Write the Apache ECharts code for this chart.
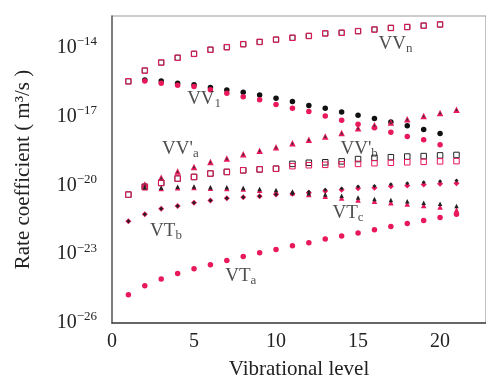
<!DOCTYPE html>
<html>
<head>
<meta charset="utf-8">
<script src="https://cdn.jsdelivr.net/npm/echarts@6/dist/echarts.min.js"></script>
<style>
  html, body { margin: 0; padding: 0; background: #fff; }
  #chart { width: 486px; height: 385px; }
</style>
</head>
<body>
<div id="chart"></div>
<script>
// log10 of the rate coefficient (m^3/s)
// VV_n, levels 1-20 (black and pink nearly identical)
var vvN = [-15.46, -14.99, -14.64, -14.43, -14.26, -14.08, -13.97, -13.84, -13.74, -13.64,
           -13.56, -13.48, -13.37, -13.34, -13.27, -13.20, -13.13, -13.09, -13.03, -12.98];
// VV_1, levels 2-20
var vv1Black = [-15.40, -15.44, -15.54, -15.61, -15.73, -15.84, -15.94, -16.06, -16.20, -16.34,
                -16.51, -16.63, -16.80, -16.94, -17.08, -17.23, -17.40, -17.56, -17.73];
var vv1Pink = [-15.44, -15.54, -15.63, -15.68, -15.83, -15.98, -16.13, -16.26, -16.47, -16.63,
               -16.77, -16.97, -17.16, -17.33, -17.48, -17.68, -17.87, -18.01, -18.23];
// VV'_a, levels 2-21
var vvA = [-19.96, -19.66, -19.39, -19.20, -18.98, -18.83, -18.64, -18.49, -18.34, -18.16,
           -18.01, -17.87, -17.71, -17.51, -17.38, -17.26, -17.11, -16.97, -16.84, -16.70];
// VV'_b, levels 1-21
var vvBBlack = [-20.40, -20.06, -19.89, -19.70, -19.63, -19.48, -19.41, -19.34, -19.30, -19.27,
                -19.06, -19.01, -18.99, -18.95, -18.85, -18.80, -18.77, -18.74, -18.72, -18.69, -18.67];
var vvBPink = [-20.40, -20.06, -19.89, -19.70, -19.63, -19.48, -19.41, -19.34, -19.30, -19.27,
               -19.16, -19.12, -19.10, -19.08, -19.06, -19.03, -19.01, -18.99, -18.97, -18.95, -18.94];
// VT_a, levels 1-21
var vtA = [-24.77, -24.37, -24.08, -23.84, -23.63, -23.46, -23.27, -23.10, -22.94, -22.79, -22.63,
           -22.50, -22.34, -22.20, -22.07, -21.93, -21.79, -21.66, -21.53, -21.40, -21.26];
// VT_b, levels 1-21
var vtBBlack = [-21.56, -21.26, -21.02, -20.90, -20.76, -20.66, -20.56, -20.51, -20.47, -20.40, -20.36,
                -20.28, -20.19, -20.13, -20.05, -20.02, -19.95, -19.90, -19.86, -19.82, -19.78];
var vtBPink = [-21.56, -21.26, -21.02, -20.90, -20.76, -20.66, -20.56, -20.51, -20.47, -20.40, -20.36,
               -20.32, -20.24, -20.19, -20.12, -20.10, -20.04, -20.00, -19.96, -19.93, -19.90];
// VT_c, levels 2-21
var vtCBlack = [-20.08, -20.10, -20.06, -20.05, -20.08, -20.08, -20.11, -20.16, -20.20, -20.26,
                -20.34, -20.40, -20.45, -20.53, -20.59, -20.63, -20.69, -20.76, -20.80, -20.90];
var vtCPink = [-20.10, -20.13, -20.10, -20.09, -20.12, -20.13, -20.16, -20.21, -20.26, -20.32,
               -20.40, -20.47, -20.55, -20.64, -20.69, -20.75, -20.81, -20.88, -20.94, -21.07];

// curve labels: level, log10 value, text, subscript
var annX = [16.25, 4.58, 3.05, 13.93, 6.90, 2.32, 13.44];
var annY = [-13.83, -16.25, -18.43, -18.43, -23.94, -21.99, -21.22];
var annMain = ['VV', 'VV', "VV'", "VV'", 'VT', 'VT', 'VT'];
var annSub = ['n', '1', 'a', 'b', 'a', 'b', 'c'];

// decades shown on the y axis (10^e)
var yTicks = [-26, -23, -20, -17, -14];

var PINK = '#e8185a';
var FONT = '"Liberation Serif", "DejaVu Serif", serif';

function pts(arr, start) {
  return arr.map(function (e, i) {
    return [start + i, e];
  });
}

function dots(data, symbol, size, fill, stroke, z) {
  return {
    type: 'scatter',
    data: data,
    symbol: symbol,
    symbolSize: size,
    z: z,
    silent: true,
    itemStyle: {
      color: fill,
      borderColor: stroke || fill,
      borderWidth: stroke ? 1 : 0,
      opacity: 1,
    },
  };
}

var chart = echarts.init(document.getElementById('chart'));

var option = {
  backgroundColor: '#fff',
  animation: false,
  grid: {
    left: 112,
    top: 16,
    right: 0,
    bottom: 57,
    show: true,
    borderColor: '#999',
    borderWidth: 1.2,
  },
  xAxis: {
    type: 'value',
    min: 0,
    max: 22.8,
    interval: 5,
    name: 'Vibrational level',
    nameLocation: 'middle',
    nameGap: 36,
    nameTextStyle: { fontFamily: FONT, fontSize: 21, color: '#222' },
    axisLine: { show: true, lineStyle: { color: '#444', width: 1.5 } },
    axisTick: { show: false },
    splitLine: { show: false },
    axisLabel: {
      showMaxLabel: false,
      margin: 9,
      fontFamily: FONT,
      fontSize: 20,
      color: '#222',
    },
  },
  yAxis: {
    type: 'value',
    min: -26,
    max: -12.61,
    interval: 3,
    name: 'Rate coefficient ( m³/s )',
    nameLocation: 'middle',
    nameGap: 78,
    nameTextStyle: { fontFamily: FONT, fontSize: 21, color: '#222' },
    axisLine: { show: true, lineStyle: { color: '#666', width: 1.5 } },
    axisTick: { show: false },
    splitLine: { show: false },
    axisLabel: {
      showMaxLabel: false,
      margin: 15,
      formatter: function (v) {
        var e = Math.round(v);
        if (yTicks.indexOf(e) < 0) return '';
        return '{b|10}{s|\u2212' + (-e) + '}';
      },
      rich: {
        b: { fontFamily: FONT, fontSize: 20, color: '#222' },
        s: { fontFamily: FONT, fontSize: 13, color: '#222', padding: [0, 0, 12, 0] },
      },
    },
  },
  series: [
    // VV_n
    dots(pts(vvN, 1), 'rect', 5, 'rgba(0,0,0,0)', '#333', 2),
    dots(pts(vvN, 1), 'rect', 5.5, 'rgba(0,0,0,0)', PINK, 3),
    // VV_1
    dots(pts(vv1Black, 2), 'circle', 5.5, '#111', null, 2),
    dots(pts(vv1Pink, 2), 'circle', 5.5, PINK, null, 3),
    // VV'_a
    dots(pts(vvA, 2), 'triangle', 6.5, PINK, null, 2),
    dots(pts(vvA, 2), 'triangle', 2.5, '#333', null, 3),
    // VV'_b
    dots(pts(vvBBlack, 1), 'rect', 5.5, 'rgba(0,0,0,0)', '#222', 2),
    dots(pts(vvBPink, 1), 'rect', 5.5, 'rgba(0,0,0,0)', PINK, 3),
    // VT_a
    dots(pts(vtA, 1), 'circle', 5.5, PINK, null, 3),
    // VT_b
    dots(pts(vtBPink, 1), 'diamond', 6, PINK, null, 2),
    dots(pts(vtBBlack, 1), 'diamond', 4, '#222', null, 3),
    // VT_c
    dots(pts(vtCPink, 2), 'triangle', 5.5, PINK, null, 2),
    dots(pts(vtCBlack, 2), 'triangle', 4.5, '#222', null, 3),
    // curve labels
    {
      type: 'scatter',
      symbolSize: 0,
      silent: true,
      z: 5,
      data: annX.map(function (x, i) {
        return { value: [x, annY[i]], main: annMain[i], sub: annSub[i] };
      }),
      label: {
        show: true,
        position: [0, 0],
        align: 'left',
        verticalAlign: 'middle',
        formatter: function (p) {
          return '{m|' + p.data.main + '}{s|' + p.data.sub + '}';
        },
        rich: {
          m: { fontFamily: FONT, fontSize: 19, color: '#222' },
          s: { fontFamily: FONT, fontSize: 13, color: '#222', padding: [9, 0, 0, 0] },
        },
      },
    },
  ],
};

chart.setOption(option);
</script>
</body>
</html>
